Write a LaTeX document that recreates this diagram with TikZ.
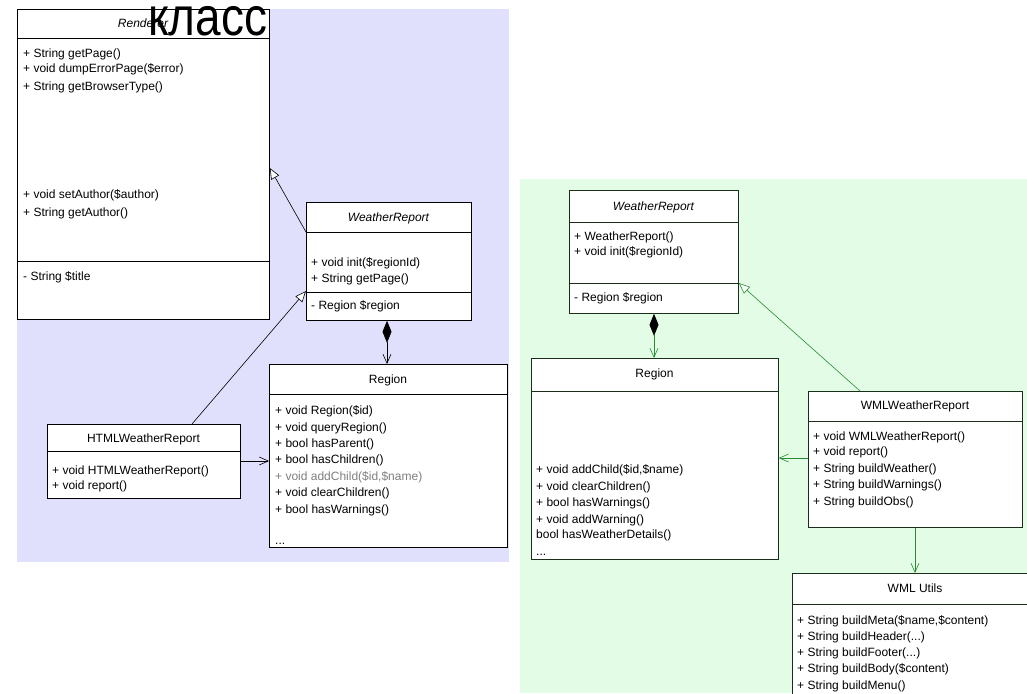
\documentclass[tikz,border=0pt]{standalone}
\usepackage{fontspec}
\setmainfont{Liberation Sans}
\usetikzlibrary{arrows.meta}
\definecolor{bgblue}{RGB}{224,224,252}
\definecolor{bggreen}{RGB}{226,252,230}
\definecolor{lgreen}{RGB}{40,140,50}
\definecolor{dgreen}{RGB}{25,45,25}
\begin{document}
\begin{tikzpicture}[x=1pt,y=-1pt,
  every node/.style={font=\fontsize{12}{14}\selectfont, inner sep=0pt},
  cbox/.style={draw, fill=white, line width=0.8pt, anchor=north west},
  gbox/.style={cbox, draw=dgreen},
  div/.style={line width=0.8pt},
  mem/.style={anchor=base west},
  ttl/.style={anchor=base},
  ittl/.style={anchor=base, font=\fontsize{12}{14}\selectfont\itshape},
  inh/.style={line width=0.6pt, -{Triangle[open, fill=white, length=11pt, width=9pt]}},
  assoc/.style={line width=0.6pt, -{Straight Barb[length=9pt, width=8pt]}},
  comp/.style={line width=0.6pt, {Diamond[color=black, fill=black, length=22pt, width=9pt]}-{Straight Barb[length=9pt, width=8pt]}}
]
\useasboundingbox (0,0) rectangle (1027,693);
\clip (0,0) rectangle (1027,693);
\fill[white] (0,0) rectangle (1027,693);
\fill[bgblue] (17,9) rectangle (509,562);
\fill[bggreen] (520,179) rectangle (1027,693);

% ---------------- left diagram ----------------
\node[cbox, minimum width=252pt, minimum height=310pt] (renderer) at (17,9) {};
\draw[div] (17,38) -- (269,38);
\draw[div] (17,261) -- (269,261);
\node[ittl] (rt) at (143,28) {Renderer};
\node[mem] (r1) at (23,57) {+ String getPage()};
\node[mem] (r2) at (23,73) {+ void dumpErrorPage(\$error)};
\node[mem] (r3) at (23,90) {+ String getBrowserType()};
\node[mem] (r4) at (23,198) {+ void setAuthor(\$author)};
\node[mem] (r5) at (23,216) {+ String getAuthor()};
\node[mem] (r6) at (23,280) {- String \$title};
\node[anchor=base west, text height=28pt, text depth=0pt, font=\fontsize{54}{60}\selectfont] (klass) at (148,36) {\scalebox{0.85}[1]{класс}};

\node[cbox, minimum width=165pt, minimum height=118pt] (wrL) at (306,202) {};
\draw[div] (306,232) -- (471,232);
\draw[div] (306,292) -- (471,292);
\node[ittl] (wlt) at (388.5,221) {WeatherReport};
\node[mem] (wl1) at (311,266) {+ void init(\$regionId)};
\node[mem] (wl2) at (311,282) {+ String getPage()};
\node[mem] (wl3) at (311,309) {- Region \$region};

\node[cbox, minimum width=238pt, minimum height=183pt] (regL) at (269,364) {};
\draw[div] (269,394) -- (507,394);
\node[ttl] (rlt) at (388,383) {Region};
\node[mem] (rl1) at (275,414) {+ void Region(\$id)};
\node[mem] (rl2) at (275,431) {+ void queryRegion()};
\node[mem] (rl3) at (275,447) {+ bool hasParent()};
\node[mem] (rl4) at (275,463) {+ bool hasChildren()};
\node[mem, text=gray] (rl5) at (275,480) {+ void addChild(\$id,\$name)};
\node[mem] (rl6) at (275,496) {+ void clearChildren()};
\node[mem] (rl7) at (275,513) {+ bool hasWarnings()};
\node[mem] (rl8) at (275,544) {...};

\node[cbox, minimum width=193pt, minimum height=74pt] (html) at (47,424) {};
\draw[div] (47,451) -- (240,451);
\node[ttl] (ht) at (143.5,442) {HTMLWeatherReport};
\node[mem] (h1) at (52,474) {+ void HTMLWeatherReport()};
\node[mem] (h2) at (52,489) {+ void report()};

\draw[inh] (wrL.west |- 0,232) -- (renderer.east |- 0,168);
\draw[inh] (html.north -| 192,0) -- (wrL.west |- 0,291);
\draw[comp] (wrL.south -| 387,0) -- (regL.north -| 387,0);
\draw[assoc] (html.east |- 0,461) -- (regL.west |- 0,461);

% ---------------- right diagram ----------------
\node[gbox, minimum width=169pt, minimum height=123pt] (wrR) at (569,190) {};
\draw[div, dgreen] (569,222) -- (738,222);
\draw[div, dgreen] (569,283) -- (738,283);
\node[ittl] (wrt) at (653.5,210) {WeatherReport};
\node[mem] (wr1) at (574,240) {+ WeatherReport()};
\node[mem] (wr2) at (574,255) {+ void init(\$regionId)};
\node[mem] (wr3) at (574,301) {- Region \$region};

\node[gbox, minimum width=247pt, minimum height=201pt] (regR) at (531,358) {};
\draw[div, dgreen] (531,391) -- (778,391);
\node[ttl] (rrt) at (654.5,377) {Region};
\node[mem] (rr1) at (536,473) {+ void addChild(\$id,\$name)};
\node[mem] (rr2) at (536,490) {+ void clearChildren()};
\node[mem] (rr3) at (536,506) {+ bool hasWarnings()};
\node[mem] (rr4) at (536,523) {+ void addWarning()};
\node[mem] (rr5) at (536,538) {bool hasWeatherDetails()};
\node[mem] (rr6) at (536,555) {...};

\node[gbox, minimum width=214pt, minimum height=136pt] (wml) at (808,391) {};
\draw[div, dgreen] (808,421) -- (1022,421);
\node[ttl] (wmt) at (915,409) {WMLWeatherReport};
\node[mem] (wm1) at (813,440) {+ void WMLWeatherReport()};
\node[mem] (wm2) at (813,455) {+ void report()};
\node[mem] (wm3) at (813,472) {+ String buildWeather()};
\node[mem] (wm4) at (813,488) {+ String buildWarnings()};
\node[mem] (wm5) at (813,505) {+ String buildObs()};

\node[gbox, minimum width=246pt, minimum height=140pt] (utils) at (792,573) {};
\draw[div, dgreen] (792,604) -- (1038,604);
\node[ttl] (ut) at (915,592) {WML Utils};
\node[mem] (u1) at (797,624) {+ String buildMeta(\$name,\$content)};
\node[mem] (u2) at (797,640) {+ String buildHeader(...)};
\node[mem] (u3) at (797,656) {+ String buildFooter(...)};
\node[mem] (u4) at (797,672) {+ String buildBody(\$content)};
\node[mem] (u5) at (797,689) {+ String buildMenu()};

\draw[inh, lgreen] (wml.north -| 860,0) -- (wrR.east |- 0,283);
\draw[comp, lgreen] (wrR.south -| 654,0) -- (regR.north -| 654,0);
\draw[assoc, lgreen] (wml.west |- 0,458) -- (regR.east |- 0,458);
\draw[assoc, lgreen] (wml.south -| 915,0) -- (utils.north -| 915,0);
\end{tikzpicture}
\end{document}
